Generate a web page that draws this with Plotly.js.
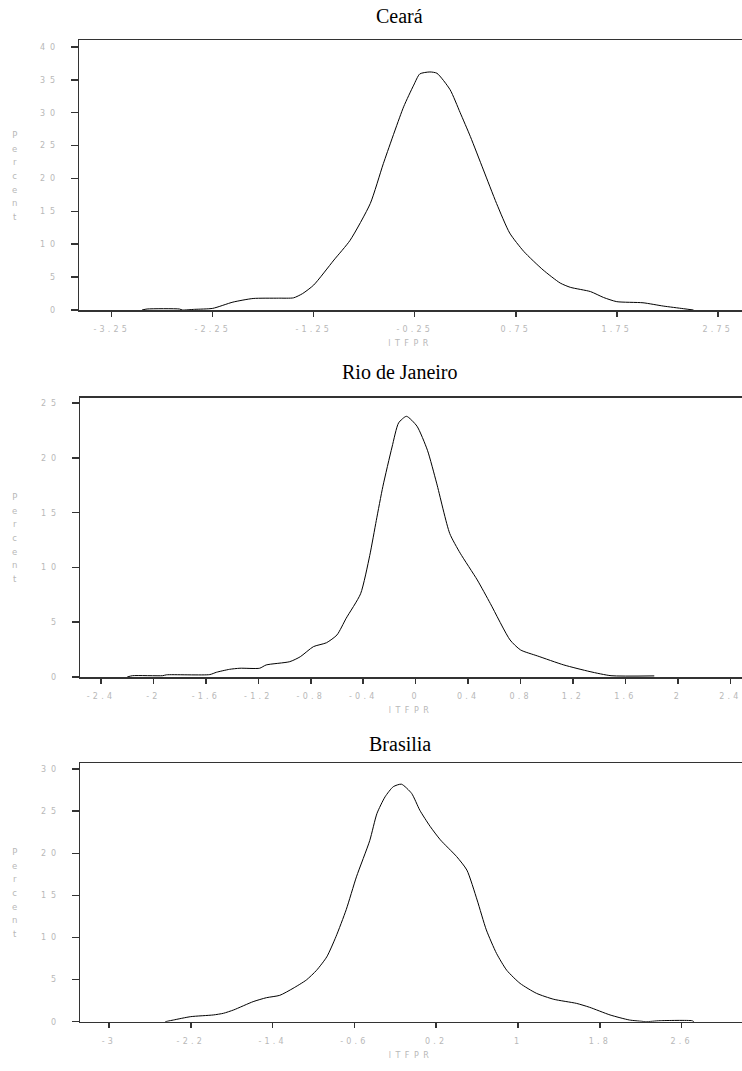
<!DOCTYPE html>
<html>
<head>
<meta charset="utf-8">
<script src="https://cdn.plot.ly/plotly-3.0.1.min.js"></script>
<style>
  html, body { margin: 0; padding: 0; background: #fff; overflow: hidden; }
  #chart { width: 742px; height: 1071px; }
  g.xtick text, g.x2tick text, g.x3tick text { letter-spacing: 3.2px; }
  g.ytick text, g.y2tick text, g.y3tick text { letter-spacing: 4.8px; }
  .xtitle, .x2title, .x3title { letter-spacing: 4.5px; }
</style>
</head>
<body>
<div id="chart"></div>
<script>
// ---- Data ----
const panelTitles = ["Ceará", "Rio de Janeiro", "Brasilia"];
const xAxisLabel = "lTFPR";
const yAxisLabel = "Percent";

// Ceará density
const cearaX = [-2.95, -2.9, -2.58, -2.55, -2.43, -2.25, -2.05, -1.85, -1.6, -1.45, -1.36, -1.25, -1.05, -0.89, -0.69, -0.56, -0.36, -0.26, -0.2, -0.1, -0.03, 0.1, 0.2, 0.3, 0.43, 0.56, 0.69, 0.83, 1.02, 1.19, 1.29, 1.49, 1.62, 1.75, 2.01, 2.21, 2.41, 2.51];
const cearaY = [0, 0.15, 0.15, 0, 0.1, 0.25, 1.2, 1.75, 1.8, 1.85, 2.5, 3.8, 7.6, 10.6, 16.2, 22.3, 30.9, 34.2, 35.9, 36.2, 36.0, 33.5, 30, 26.4, 21.3, 16.2, 11.7, 8.9, 6.1, 4.1, 3.45, 2.8, 1.9, 1.27, 1.1, 0.6, 0.2, 0];

// Rio de Janeiro density
const rioX = [-2.2, -2.16, -1.93, -1.9, -1.57, -1.52, -1.42, -1.34, -1.19, -1.14, -0.96, -0.88, -0.78, -0.68, -0.6, -0.53, -0.42, -0.35, -0.3, -0.25, -0.18, -0.13, -0.07, 0.01, 0.09, 0.16, 0.26, 0.34, 0.47, 0.57, 0.72, 0.8, 0.93, 1.13, 1.33, 1.49, 1.82];
const rioY = [0, 0.12, 0.12, 0.2, 0.22, 0.43, 0.7, 0.8, 0.8, 1.1, 1.4, 1.85, 2.77, 3.13, 3.84, 5.36, 7.6, 11.1, 14.3, 17.4, 21.0, 23.2, 23.8, 22.9, 20.7, 17.7, 13.1, 11.3, 8.86, 6.7, 3.38, 2.47, 1.92, 1.1, 0.49, 0.12, 0.1];

// Brasilia density
const brasX = [-2.45, -2.37, -2.2, -1.98, -1.88, -1.78, -1.59, -1.46, -1.33, -1.2, -1.07, -0.97, -0.87, -0.78, -0.68, -0.58, -0.45, -0.38, -0.3, -0.22, -0.14, -0.04, 0.04, 0.14, 0.24, 0.4, 0.5, 0.6, 0.69, 0.79, 0.89, 1.02, 1.18, 1.35, 1.57, 1.7, 1.9, 2.09, 2.21, 2.25, 2.39, 2.7, 2.72];
const brasY = [0, 0.2, 0.6, 0.8, 1.0, 1.4, 2.38, 2.85, 3.13, 3.96, 4.95, 6.1, 7.7, 10.1, 13.3, 17.2, 21.5, 24.7, 26.7, 27.9, 28.2, 27.1, 25.1, 23.2, 21.6, 19.6, 18.0, 14.45, 10.9, 8.1, 6.1, 4.55, 3.37, 2.66, 2.18, 1.71, 0.8, 0.2, 0.05, 0, 0.12, 0.12, 0];

// Tick values / labels
const cearaXTicks = [-3.25, -2.25, -1.25, -0.25, 0.75, 1.75, 2.75];
const cearaXText = ["-3.25", "-2.25", "-1.25", "-0.25", "0.75", "1.75", "2.75"];
const cearaYTicks = [0, 5, 10, 15, 20, 25, 30, 35, 40];
const rioXTicks = [-2.4, -2, -1.6, -1.2, -0.8, -0.4, 0, 0.4, 0.8, 1.2, 1.6, 2, 2.4];
const rioXText = ["-2.4", "-2", "-1.6", "-1.2", "-0.8", "-0.4", "0", "0.4", "0.8", "1.2", "1.6", "2", "2.4"];
const rioYTicks = [0, 5, 10, 15, 20, 25];
const brasXTicks = [-3, -2.2, -1.4, -0.6, 0.2, 1, 1.8, 2.6];
const brasXText = ["-3", "-2.2", "-1.4", "-0.6", "0.2", "1", "1.8", "2.6"];
const brasYTicks = [0, 5, 10, 15, 20, 25, 30];

// ---- Styling ----
const W = 742, H = 1071;
const labelGray = "#b8b8b8";
const axisCol = "#333333";
const tickFont = { family: "DejaVu Sans", size: 8, color: labelGray };

function xAxisDef(range, vals, text, left, anchor) {
  return {
    domain: [left / W, 1], range: range, anchor: anchor,
    tickmode: "array", tickvals: vals, ticktext: text,
    ticks: "outside", ticklen: 5, tickwidth: 1.5, tickcolor: axisCol,
    showline: true, linecolor: axisCol, linewidth: 1.5, mirror: true,
    showgrid: false, zeroline: false, tickfont: tickFont, ticklabelstandoff: 6,
    ticklabeloverflow: "allow",
    title: { text: xAxisLabel, font: tickFont, standoff: 7 },
    fixedrange: true
  };
}
function yAxisDef(range, vals, top, bottom, anchor) {
  return {
    domain: [1 - bottom / H, 1 - top / H], range: range, anchor: anchor,
    tickmode: "array", tickvals: vals, ticktext: vals.map(String),
    ticks: "outside", ticklen: 7, tickwidth: 1.5, tickcolor: axisCol,
    showline: true, linecolor: axisCol, linewidth: 1.5, mirror: false,
    showgrid: false, zeroline: false, tickfont: tickFont, ticklabelstandoff: 9,
    ticklabeloverflow: "allow",
    fixedrange: true
  };
}

const lineStyle = { color: "#000", width: 1, shape: "spline", smoothing: 0.6 };
const traces = [
  { x: cearaX, y: cearaY, xaxis: "x", yaxis: "y", mode: "lines", line: lineStyle, hoverinfo: "skip" },
  { x: rioX, y: rioY, xaxis: "x2", yaxis: "y2", mode: "lines", line: lineStyle, hoverinfo: "skip" },
  { x: brasX, y: brasY, xaxis: "x3", yaxis: "y3", mode: "lines", line: lineStyle, hoverinfo: "skip" }
];

const stacked = yAxisLabel.split("").map(c => '<span style="font-size:8.5px">' + c + '</span>').join("<br>");
function percentAnn(cy) {
  return { xref: "paper", yref: "paper", x: 15 / W, y: 1 - cy / H, text: stacked,
    showarrow: false, font: { family: "DejaVu Sans", size: 10.5, color: labelGray },
    xanchor: "center", yanchor: "middle" };
}
function titleAnn(txt, cy) {
  return { xref: "paper", yref: "paper", x: 400 / W, y: 1 - cy / H, text: txt,
    showarrow: false, font: { family: "Liberation Serif", size: 20, color: "#000" },
    xanchor: "center", yanchor: "middle" };
}

const layout = {
  width: W, height: H,
  margin: { l: 0, r: 0, t: 0, b: 0 },
  paper_bgcolor: "#fff", plot_bgcolor: "#fff",
  showlegend: false,
  xaxis: xAxisDef([-3.574, 2.99], cearaXTicks, cearaXText, 79, "y"),
  yaxis: yAxisDef([0, 41.06], cearaYTicks, 40, 310, "x"),
  xaxis2: xAxisDef([-2.56, 2.489], rioXTicks, rioXText, 80, "y2"),
  yaxis2: yAxisDef([0, 25.5], rioYTicks, 397.7, 677, "x2"),
  xaxis3: xAxisDef([-3.283, 3.19], brasXTicks, brasXText, 80, "y3"),
  yaxis3: yAxisDef([0, 30.68], brasYTicks, 763.3, 1021.7, "x3"),
  annotations: [
    titleAnn(panelTitles[0], 16),
    titleAnn(panelTitles[1], 372),
    titleAnn(panelTitles[2], 744),
    percentAnn(176),
    percentAnn(537.5),
    percentAnn(893)
  ]
};

Plotly.newPlot("chart", traces, layout, { staticPlot: true, displayModeBar: false });
</script>
</body>
</html>
